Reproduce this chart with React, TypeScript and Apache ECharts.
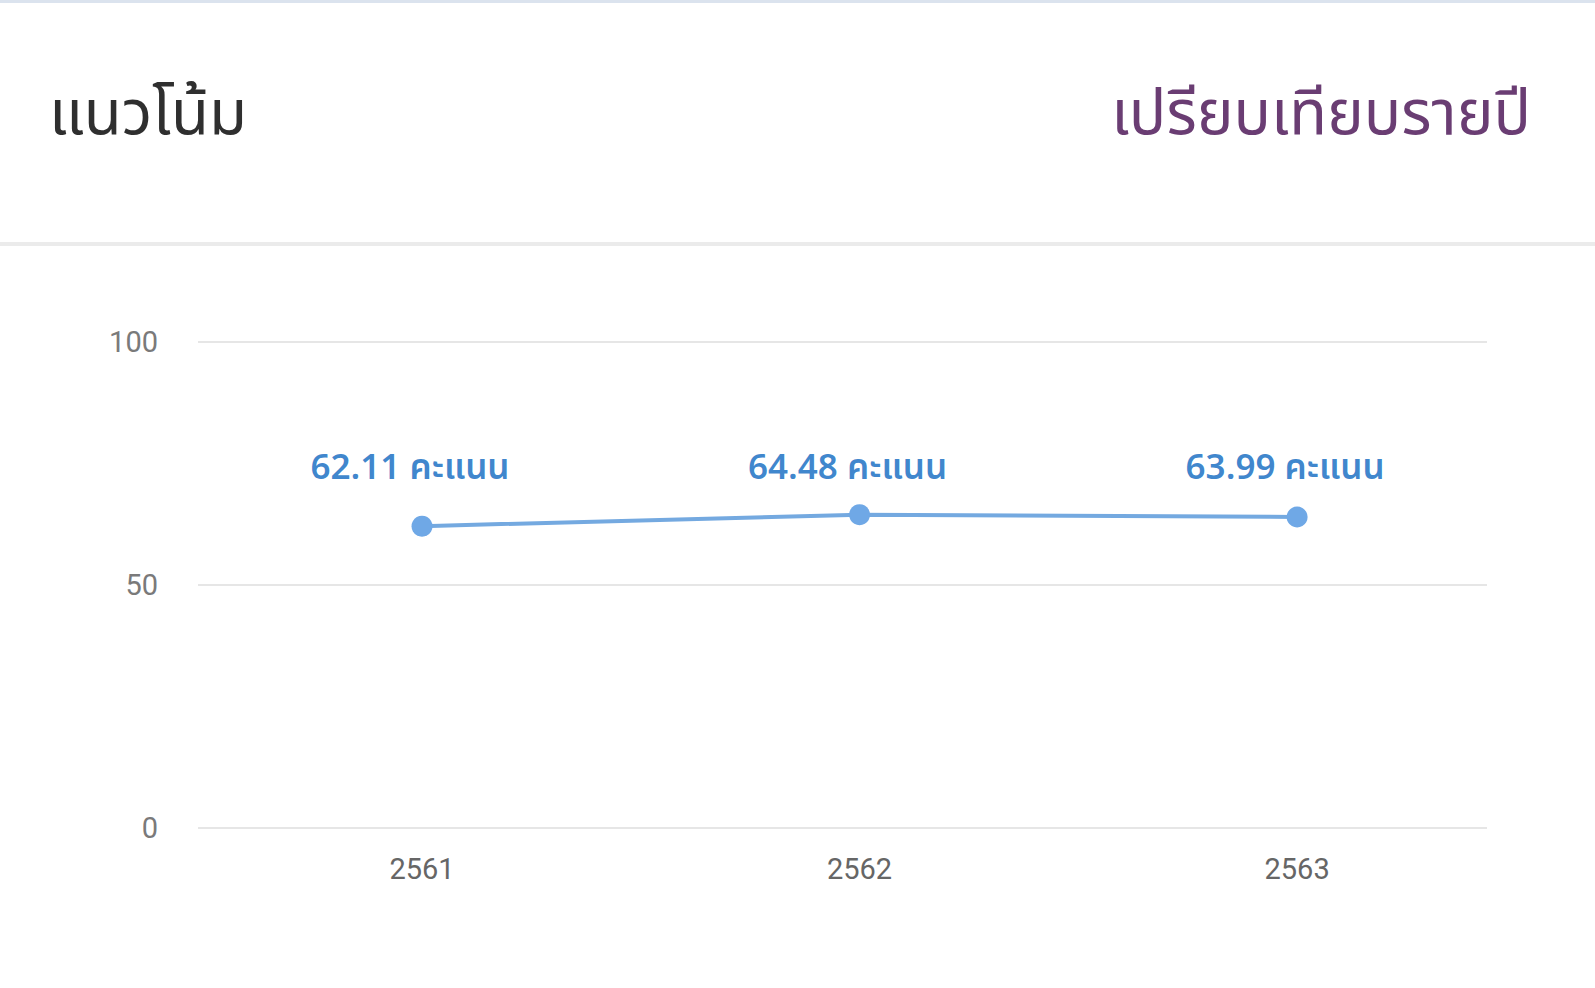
import React, { useEffect, useRef } from "react";
import * as echarts from "echarts";

const years = ["2561", "2562", "2563"];
const scores = [62.11, 64.48, 63.99];
const unit = "คะแนน";
const yTicks = [0, 50, 100];
const titleLeft = "แนวโน้ม";
const titleRight = "เปรียบเทียบรายปี";
const labelLevel = 74;

export default function App() {
  const ref = useRef<HTMLDivElement>(null);
  useEffect(() => {
    document.body.style.margin = "0";
    const chart = echarts.init(ref.current!, null, { renderer: "svg" });
    const thai = "'Noto Sans Thai', 'Noto Sans', Tahoma, sans-serif";
    chart.setOption({
      animation: false,
      backgroundColor: "#ffffff",
      title: [
        {
          text: titleLeft,
          left: 44,
          top: 79,
          textStyle: { fontFamily: thai, fontSize: 62, fontWeight: "normal", color: "#2f2f2f" },
        },
        {
          text: titleRight,
          right: 59,
          top: 79,
          textStyle: { fontFamily: thai, fontSize: 62, fontWeight: "normal", color: "#6a3d73" },
        },
      ],
      graphic: [
        { type: "rect", shape: { x: 0, y: 0, width: 1595, height: 3 }, style: { fill: "#dbe3ee" } },
        { type: "rect", shape: { x: 0, y: 242, width: 1595, height: 4 }, style: { fill: "#ebebeb" } },
      ],
      grid: { left: 198, right: 1595 - 1487, top: 342, bottom: 988 - 828, containLabel: false },
      xAxis: {
        type: "value",
        min: -0.512,
        max: 2.434,
        axisLine: { show: false },
        axisTick: { show: false },
        splitLine: { show: false },
        axisLabel: {
          customValues: [0, 1, 2],
          formatter: (v: number) => years[Math.round(v)] ?? "",
          color: "#666666",
          fontSize: 29,
          fontFamily: "Roboto, sans-serif",
          margin: 26,
        },
      },
      yAxis: {
        type: "value",
        min: 0,
        max: 100,
        interval: 50,
        axisLine: { show: false },
        axisTick: { show: false },
        splitLine: { lineStyle: { color: "#e6e6e6", width: 2 } },
        axisLabel: {
          customValues: yTicks,
          color: "#7a7a7a",
          fontSize: 29,
          fontFamily: "Roboto, sans-serif",
          margin: 40,
        },
      },
      series: [
        {
          type: "line",
          data: scores.map((s, i) => [i, s]),
          symbol: "circle",
          symbolSize: 21,
          lineStyle: { color: "#74a9e0", width: 4 },
          itemStyle: { color: "#6fa8e6" },
          label: { show: false },
          z: 3,
        },
        {
          type: "scatter",
          data: scores.map((s, i) => [i, labelLevel]),
          symbolSize: 0,
          silent: true,
          label: {
            show: true,
            position: "inside",
            offset: [-12, 0],
            formatter: (p: any) => `${scores[p.dataIndex].toFixed(2)} ${unit}`,
            color: "#0b66c0",
            fontSize: 35,
            fontWeight: 600,
            fontFamily: thai,
          },
          z: 4,
        },
      ],
    });
    return () => chart.dispose();
  }, []);
  return (
    <div style={{ position: "absolute", left: 0, top: 0, width: 1595, height: 988 }}>
      <div ref={ref} style={{ width: 1595, height: 988 }} />
    </div>
  );
}
